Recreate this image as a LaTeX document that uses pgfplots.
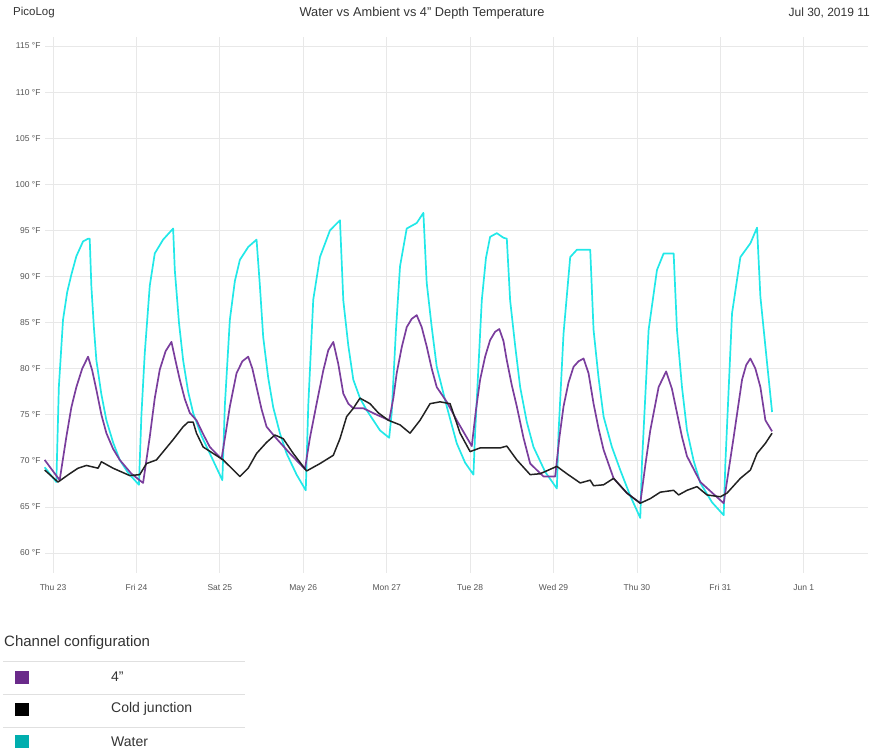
\documentclass[border=0pt]{standalone}
\usepackage{pgfplots}
\pgfplotsset{compat=1.18}
\usepackage{fontspec}
\setmainfont{Liberation Sans}
\definecolor{water}{HTML}{22E8E8}
\definecolor{depth}{HTML}{7A3E9D}
\definecolor{cold}{HTML}{222222}
\definecolor{legpurple}{HTML}{6A2A8A}
\definecolor{legteal}{HTML}{00AEAE}
\definecolor{txt}{HTML}{333333}
\definecolor{tick}{HTML}{555555}
\newcommand{\dq}{\symbol{34}}
\begin{document}
\begin{tikzpicture}
\path[use as bounding box] (0pt,0pt) rectangle (871pt,-752pt);
% header
\node[anchor=west,text=txt,font=\fontsize{11.5}{13}\selectfont,inner sep=0pt] at (13pt,-13pt) {PicoLog};
\node[text=txt,font=\fontsize{12.8}{14}\selectfont,inner sep=0pt] at (422pt,-13pt) {Water vs Ambient vs 4\dq{} Depth Temperature};
\node[anchor=east,text=txt,font=\fontsize{12}{14}\selectfont,inner sep=0pt] at (870pt,-13pt) {Jul 30, 2019 11};

\begin{axis}[
  at={(45pt,-573pt)}, anchor=south west,
  scale only axis, width=823pt, height=536pt,
  xmin=-0.096, xmax=9.77, ymin=57.83, ymax=115.98,
  axis line style={draw=none},
  major tick length=0pt,
  grid=major, grid style={black!9, line width=0.7pt},
  xtick={0,1,2,3,4,5,6,7,8,9},
  xticklabels={Thu 23,Fri 24,Sat 25,May 26,Mon 27,Tue 28,Wed 29,Thu 30,Fri 31,Jun 1},
  ytick={60,65,70,75,80,85,90,95,100,105,110,115},
  yticklabels={60 °F,65 °F,70 °F,75 °F,80 °F,85 °F,90 °F,95 °F,100 °F,105 °F,110 °F,115 °F},
  tick label style={font=\fontsize{8.5}{10}\selectfont, text=tick},
  xticklabel style={yshift=-8pt},
  yticklabel style={xshift=-1pt},
  clip=false,
]
% Water
\addplot[water, line width=1.7pt, line join=round] coordinates {
(-0.1,69.3)(0.04,67.7)(0.07,78)(0.12,85.3)(0.17,88.3)(0.22,90.2)(0.28,92.2)(0.34,93.4)(0.36,93.8)(0.42,94.1)(0.44,94.1)
(0.46,88.9)(0.49,84.5)(0.52,80.9)(0.58,77.2)(0.64,74.4)(0.72,72.0)(0.80,70.1)(0.90,68.7)(1.03,67.4)
(1.06,75)(1.10,81.7)(1.16,89.0)(1.22,92.5)(1.32,94.0)(1.44,95.2)
(1.46,90.7)(1.51,85.0)(1.56,80.9)(1.62,77.5)(1.68,75.2)(1.78,72.7)(1.88,70.8)(2.03,67.9)
(2.06,76)(2.12,85.3)(2.18,89.5)(2.24,91.8)(2.34,93.2)(2.44,94.0)
(2.48,89)(2.52,83.4)(2.58,79.0)(2.64,75.8)(2.72,73.0)(2.80,70.8)(2.92,68.5)(3.03,66.8)
(3.06,76)(3.12,87.5)(3.20,92.1)(3.32,95.0)(3.44,96.1)
(3.48,87.4)(3.54,82.5)(3.60,78.8)(3.68,76.8)(3.76,75.5)(3.92,73.3)(4.03,72.5)
(4.06,75.2)(4.11,84)(4.16,91.1)(4.24,95.2)(4.36,95.8)(4.44,96.9)
(4.48,89.3)(4.54,84.5)(4.60,80.2)(4.72,75.9)(4.84,71.9)(4.94,69.8)(5.04,68.5)
(5.06,73.0)(5.14,87.4)(5.19,92)(5.24,94.3)(5.32,94.7)(5.40,94.2)(5.44,94.1)
(5.48,87.4)(5.54,82.5)(5.60,78.0)(5.68,74.2)(5.76,71.5)(5.90,68.8)(6.04,67.0)
(6.06,73.0)(6.12,83.8)(6.20,92.1)(6.28,92.9)(6.44,92.9)
(6.48,84.2)(6.54,79.0)(6.60,74.8)(6.70,71.5)(6.80,69.0)(6.92,66.2)(7.04,63.8)
(7.06,69.7)(7.14,84.2)(7.24,90.7)(7.32,92.5)(7.44,92.5)
(7.48,84.2)(7.54,78.0)(7.60,73.3)(7.68,70.0)(7.76,67.6)(7.90,65.5)(8.04,64.1)
(8.06,69.7)(8.14,86.0)(8.24,92.1)(8.36,93.6)(8.44,95.3)
(8.48,87.8)(8.56,80.6)(8.62,75.3)
};
% 4" depth
\addplot[depth, line width=1.7pt, line join=round] coordinates {
(-0.1,70.1)(0.08,67.9)(0.16,72.6)(0.22,75.8)(0.28,78.0)(0.35,80.0)(0.42,81.3)(0.47,79.8)(0.52,77.7)(0.58,75.0)(0.64,73.0)(0.72,71.3)(0.80,70.1)(0.94,68.6)(1.08,67.6)
(1.16,72.6)(1.22,76.8)(1.28,79.9)(1.35,81.9)(1.42,82.9)(1.47,80.8)(1.52,78.8)(1.58,76.7)(1.64,75.2)(1.72,74.4)(1.80,72.9)(1.88,71.5)(2.02,70.2)
(2.07,73.0)(2.12,75.9)(2.20,79.5)(2.27,80.8)(2.34,81.3)(2.39,80.0)(2.44,78.0)(2.50,75.6)(2.56,73.7)(2.68,72.4)(2.84,70.8)(3.02,69.1)
(3.08,72.5)(3.16,76.2)(3.24,79.8)(3.30,82.0)(3.36,82.9)(3.42,80.5)(3.48,77.3)(3.54,76.2)(3.60,75.7)(3.72,75.7)(3.88,75.0)(4.03,74.4)
(4.08,76.8)(4.12,79.5)(4.18,82.3)(4.24,84.5)(4.30,85.4)(4.36,85.8)(4.42,84.5)(4.48,82.4)(4.54,80.0)(4.60,78.0)(4.72,76.4)(4.84,74.4)(5.02,71.6)
(5.07,75.5)(5.12,78.8)(5.18,81.3)(5.24,83.1)(5.30,84.0)(5.35,84.3)(5.40,83.0)(5.44,80.9)(5.50,78.2)(5.56,75.9)(5.64,72.5)(5.72,69.7)(5.88,68.3)(6.02,68.3)
(6.07,72.5)(6.12,75.9)(6.18,78.5)(6.24,80.2)(6.30,80.8)(6.36,81.1)(6.42,79.5)(6.48,76.2)(6.54,73.5)(6.60,71.2)(6.72,68.1)(6.88,66.5)(7.04,65.4)
(7.10,69.5)(7.16,73.3)(7.26,78.0)(7.35,79.7)(7.42,77.8)(7.48,75.2)(7.54,72.6)(7.60,70.5)(7.76,67.7)(8.04,65.4)
(8.10,69.0)(8.16,72.6)(8.26,78.8)(8.31,80.4)(8.36,81.1)(8.42,80.0)(8.48,78.0)(8.54,74.4)(8.62,73.2)
};
% Cold junction
\addplot[cold, line width=1.5pt, line join=round] coordinates {
(-0.1,69.0)(0.06,67.7)(0.2,68.6)(0.3,69.2)(0.4,69.5)(0.54,69.2)(0.58,69.9)(0.72,69.2)(0.92,68.4)(1.04,68.5)(1.12,69.7)(1.24,70.1)(1.34,71.2)(1.44,72.3)(1.56,73.7)(1.62,74.2)(1.68,74.2)(1.72,73.0)(1.80,71.5)(2.04,70.1)(2.14,69.2)(2.24,68.3)(2.34,69.2)(2.44,70.8)(2.56,72.0)(2.66,72.8)(2.76,72.4)(2.88,70.8)(3.04,68.9)(3.20,69.7)(3.36,70.6)(3.44,72.4)(3.52,74.8)(3.60,75.7)(3.68,76.8)(3.80,76.2)(3.90,75.2)(4.02,74.4)(4.16,73.9)(4.28,73.0)(4.40,74.4)(4.52,76.2)(4.64,76.4)(4.76,76.2)(4.88,73.0)(5.0,71.0)(5.12,71.4)(5.36,71.4)(5.44,71.6)(5.56,70.1)(5.72,68.5)(5.84,68.6)(6.04,69.4)(6.16,68.6)(6.32,67.6)(6.44,67.9)(6.48,67.3)(6.60,67.4)(6.72,68.1)(6.88,66.5)(7.04,65.4)(7.16,65.9)(7.28,66.6)(7.44,66.8)(7.50,66.3)(7.60,66.8)(7.72,67.2)(7.84,66.3)(8.0,66.1)(8.08,66.5)(8.24,68.1)(8.36,69.0)(8.44,70.8)(8.54,71.9)(8.62,73.0)
};
\end{axis}

% channel configuration table
\node[anchor=west,text=txt,font=\fontsize{15}{17}\selectfont,inner sep=0pt] at (4pt,-643pt) {Channel configuration};
\foreach \yy in {661,694,727} {\draw[black!12, line width=1pt] (3pt,-\yy pt) -- (245pt,-\yy pt);}
\fill[legpurple] (15pt,-671pt) rectangle (29pt,-684pt);
\fill[black] (15pt,-703pt) rectangle (29pt,-716pt);
\fill[legteal] (15pt,-735pt) rectangle (29pt,-748pt);
\node[anchor=west,text=txt,font=\fontsize{14}{16}\selectfont,inner sep=0pt] at (111pt,-677pt) {4\dq};
\node[anchor=west,text=txt,font=\fontsize{14}{16}\selectfont,inner sep=0pt] at (111pt,-709pt) {Cold junction};
\node[anchor=west,text=txt,font=\fontsize{14}{16}\selectfont,inner sep=0pt] at (111pt,-742pt) {Water};
\end{tikzpicture}
\end{document}
